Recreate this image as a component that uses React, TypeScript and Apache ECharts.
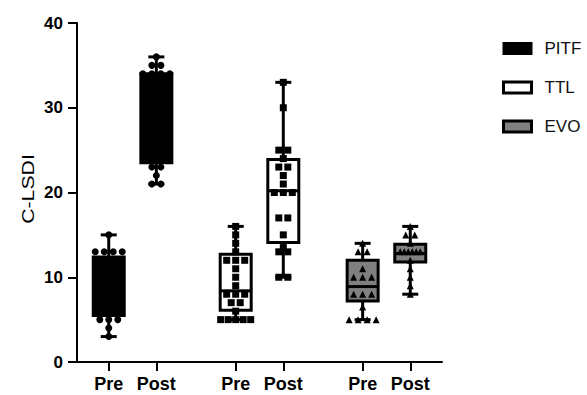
import React, { useEffect, useRef } from 'react';
import * as echarts from 'echarts';

const groupNames = ['PITF', 'TTL', 'EVO'];
const tickPositions = [0, 3, 8, 11, 16, 19];
const tickLabels = ['Pre', 'Post', 'Pre', 'Post', 'Pre', 'Post'];

// box stats: [min, q1, median, q3, max]
const pitfPre = [3, 5.5, 9, 12.4, 15];
const pitfPost = [21, 23.5, 28, 34, 36];
const ttlPre = [5, 6.1, 8.4, 12.7, 16];
const ttlPost = [10, 14.1, 20.2, 23.9, 33];
const evoPre = [5, 7.2, 8.9, 12, 14];
const evoPost = [8, 11.8, 12.8, 13.9, 16];

// individual points
const pitfPrePts = [15, 13, 13, 13, 13, 11, 10, 9, 8, 7, 6, 5, 5, 5, 4, 3];
const pitfPostPts = [36, 35, 35, 34, 34, 34, 34, 31, 29, 27, 25, 23, 23, 22, 21, 21];
const ttlPrePts = [16, 15, 14, 13, 12, 12, 12, 11, 10, 9, 8, 8, 8, 7, 7, 6, 5, 5, 5, 5, 5];
const ttlPostPts = [33, 30, 25, 25, 24, 23, 23, 22, 21, 20, 20, 20, 17, 17, 15, 13.5, 13, 13, 10, 10];
const evoPrePts = [14, 13, 13, 11, 10, 10, 10, 8, 8, 8, 6.5, 5, 5, 5, 5];
const evoPostPts = [16, 15, 15, 14, 13, 13, 13, 13, 13, 13, 12, 11, 10, 9, 8];

const FONT = 'Liberation Sans, Arial, Helvetica, sans-serif';
const X_MIN = -2;
const X_MAX = 21;
const GRID_W = 365;

function swarm(x: number, vals: number[], maxRowPx = 30): number[][] {
  const pxPerUnit = GRID_W / (X_MAX - X_MIN);
  const counts: Record<string, number> = {};
  vals.forEach((v) => { counts[v] = (counts[v] || 0) + 1; });
  const seen: Record<string, number> = {};
  return vals.map((v) => {
    const n = counts[v];
    const i = seen[v] || 0;
    seen[v] = i + 1;
    const spPx = n > 1 ? Math.min(9, maxRowPx / (n - 1)) : 0;
    return [x + ((i - (n - 1) / 2) * spPx) / pxPerUnit, v];
  });
}

export default function App() {
  const ref = useRef<HTMLDivElement>(null);
  useEffect(() => {
    if (!ref.current) return;
    const chart = echarts.init(ref.current, undefined, { renderer: 'svg' });
    const fills: Record<string, string> = { PITF: '#000000', TTL: '#ffffff', EVO: '#808080' };
    const boxes: Record<string, number[][]> = {
      PITF: [[tickPositions[0], ...pitfPre], [tickPositions[1], ...pitfPost]],
      TTL: [[tickPositions[2], ...ttlPre], [tickPositions[3], ...ttlPost]],
      EVO: [[tickPositions[4], ...evoPre], [tickPositions[5], ...evoPost]],
    };
    const pts: Record<string, number[][]> = {
      PITF: [...swarm(tickPositions[0], pitfPrePts), ...swarm(tickPositions[1], pitfPostPts)],
      TTL: [...swarm(tickPositions[2], ttlPrePts), ...swarm(tickPositions[3], ttlPostPts)],
      EVO: [...swarm(tickPositions[4], evoPrePts), ...swarm(tickPositions[5], evoPostPts, 20)],
    };
    const symbols: Record<string, string> = { PITF: 'circle', TTL: 'rect', EVO: 'triangle' };

    const boxSeries = groupNames.map((g) => ({
      type: 'custom',
      name: g,
      z: 2,
      encode: { x: 0, y: [1, 2, 3, 4, 5] },
      data: boxes[g],
      itemStyle: { color: fills[g], borderColor: '#000', borderWidth: 3 },
      renderItem: (params: any, api: any) => {
        const x = api.value(0);
        const [cx, yMin] = api.coord([x, api.value(1)]);
        const yQ1 = api.coord([x, api.value(2)])[1];
        const yMed = api.coord([x, api.value(3)])[1];
        const yQ3 = api.coord([x, api.value(4)])[1];
        const yMax = api.coord([x, api.value(5)])[1];
        const hb = 15.5;
        const hc = 8;
        const ls = { stroke: '#000', lineWidth: 3 };
        return {
          type: 'group',
          children: [
            { type: 'line', shape: { x1: cx, y1: yMin, x2: cx, y2: yQ1 }, style: ls },
            { type: 'line', shape: { x1: cx, y1: yQ3, x2: cx, y2: yMax }, style: ls },
            { type: 'line', shape: { x1: cx - hc, y1: yMin, x2: cx + hc, y2: yMin }, style: ls },
            { type: 'line', shape: { x1: cx - hc, y1: yMax, x2: cx + hc, y2: yMax }, style: ls },
            {
              type: 'rect',
              shape: { x: cx - hb, y: yQ3, width: hb * 2, height: yQ1 - yQ3 },
              style: { fill: fills[g], stroke: '#000', lineWidth: 3 },
            },
            { type: 'line', shape: { x1: cx - hb, y1: yMed, x2: cx + hb, y2: yMed }, style: ls },
          ],
        };
      },
    }));

    const pointSeries = groupNames.map((g) => ({
      type: 'scatter',
      name: g + ' points',
      z: 3,
      symbol: symbols[g],
      symbolSize: g === 'EVO' ? 7 : 7,
      itemStyle: { color: '#000', opacity: 1 },
      emphasis: { disabled: true },
      data: pts[g],
    }));

    chart.setOption({
      animation: false,
      grid: { left: 77, top: 23, width: GRID_W, height: 339, containLabel: false },
      legend: {
        orient: 'vertical',
        left: 497,
        top: 35,
        icon: 'rect',
        itemWidth: 28,
        itemHeight: 11,
        itemGap: 22,
        selectedMode: false,
        textStyle: { fontSize: 17, fontFamily: FONT, color: '#111', padding: [0, 0, 0, 8] },
        data: [
          { name: 'PITF', itemStyle: { color: '#000', borderColor: '#000', borderWidth: 2 } },
          { name: 'TTL', itemStyle: { color: '#fff', borderColor: '#000', borderWidth: 3 } },
          { name: 'EVO', itemStyle: { color: '#808080', borderColor: '#000', borderWidth: 3 } },
        ],
      },
      xAxis: {
        type: 'value',
        min: X_MIN,
        max: X_MAX,
        splitLine: { show: false },
        axisLine: { show: true, onZero: false, lineStyle: { color: '#000', width: 2 } },
        axisTick: { show: true, customValues: tickPositions, length: 9, lineStyle: { color: '#000', width: 2 } },
        axisLabel: {
          customValues: tickPositions,
          margin: 13,
          fontSize: 18,
          fontWeight: 'bold',
          fontFamily: FONT,
          color: '#000',
          formatter: (v: number) => {
            const i = tickPositions.indexOf(v);
            return i >= 0 ? tickLabels[i] : '';
          },
        },
      },
      yAxis: {
        type: 'value',
        min: 0,
        max: 40,
        interval: 10,
        splitLine: { show: false },
        axisLine: { show: true, onZero: false, lineStyle: { color: '#000', width: 2 } },
        axisTick: { show: true, length: 9, lineStyle: { color: '#000', width: 2 } },
        axisLabel: { margin: 14, fontSize: 17, fontWeight: 'bold', fontFamily: FONT, color: '#000' },
      },
      graphic: [
        {
          type: 'text',
          x: 28,
          y: 189,
          rotation: Math.PI / 2,
          scaleX: 1.25,
          style: {
            text: 'C-LSDI',
            fontSize: 17,
            fontFamily: FONT,
            fill: '#000',
            align: 'center',
            verticalAlign: 'middle',
          },
        },
      ],
      series: [...boxSeries, ...pointSeries],
    });
    return () => chart.dispose();
  }, []);
  return (
    <div
      ref={ref}
      style={{ position: 'fixed', left: 0, top: 0, width: 587, height: 395, background: '#fff' }}
    />
  );
}
